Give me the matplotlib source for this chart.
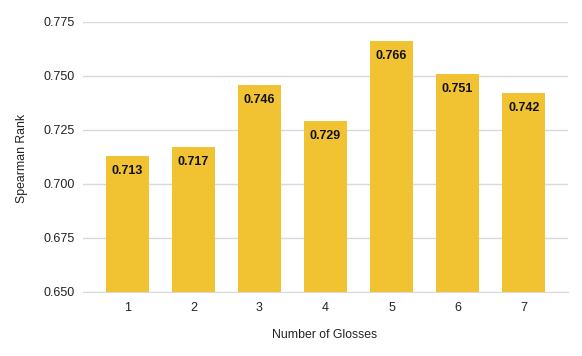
import matplotlib
matplotlib.use("Agg")
import matplotlib.pyplot as plt

categories = ["1", "2", "3", "4", "5", "6", "7"]
values = [0.713, 0.717, 0.746, 0.729, 0.766, 0.751, 0.742]
yticks = [0.650, 0.675, 0.700, 0.725, 0.750, 0.775]

plt.rcParams['font.family'] = ['Liberation Sans', 'DejaVu Sans']

fig = plt.figure(figsize=(5.82, 3.56), dpi=100)
ax = fig.add_axes([83/582, 1-292/356, 485/582, 270/356])

x = list(range(1, len(categories)+1))
bars = ax.bar(x, values, width=0.65, color="#F1C232", zorder=3, bottom=0)
ax.set_ylim(0.650, 0.775)
ax.set_xlim(0.33, 7.67)
ax.set_yticks(yticks)
ax.set_yticklabels([f"{v:.3f}" for v in yticks])
ax.set_xticks(x)
ax.set_xticklabels(categories)
ax.grid(axis="y", color="#d9d9d9", linewidth=1, zorder=0)
for s in ["top", "right", "left"]:
    ax.spines[s].set_visible(False)
ax.spines["bottom"].set_color("#d9d9d9")
ax.tick_params(axis="both", length=0, labelsize=9, colors="#222222", pad=6)
ax.tick_params(axis="x", pad=7)

for xi, v in zip(x, values):
    ax.annotate(f"{v:.3f}", (xi, v), xytext=(0, -6.5), textcoords="offset points",
                ha="center", va="top", fontsize=9, fontweight="bold", color="#111111", zorder=4)

fig.text(22/582, 1-158/356, "Spearman Rank", rotation=90, ha="center", va="center", fontsize=8.8, color="#222222")
fig.text(325/582, 1-335/356, "Number of Glosses", ha="center", va="center", fontsize=8.8, color="#222222")

fig.savefig("out.png", dpi=100)
